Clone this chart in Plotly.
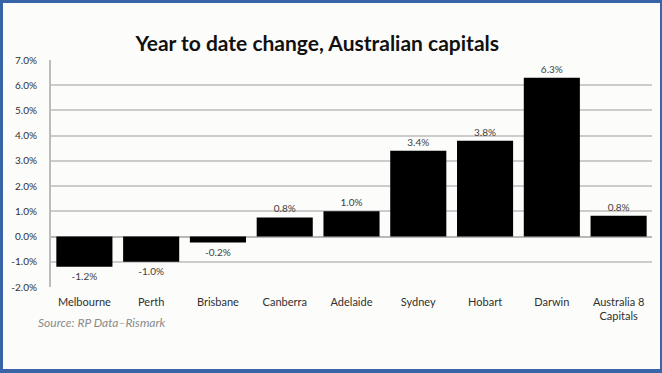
import plotly.graph_objects as go

categories = ["Melbourne", "Perth", "Brisbane", "Canberra", "Adelaide", "Sydney", "Hobart", "Darwin", "Australia 8<br>Capitals"]
values = [-1.2, -1.0, -0.24, 0.76, 1.0, 3.4, 3.8, 6.3, 0.82]
y_ticks = [-2, -1, 0, 1, 2, 3, 4, 5, 6, 7]

W, H = 662, 373
L, R, T, B = 51, 10, 60, 86
pw, ph = W - L - R, H - T - B

def px(x):
    return (x - L) / pw

def py(y):
    return (H - B - y) / ph

FONT = "Lato, Open Sans, sans-serif"
BG = "#fcfcfa"

fig = go.Figure()
fig.add_trace(go.Bar(
    x=categories, y=values,
    marker=dict(color="#000000", line=dict(color="#000000", width=0)),
    text=[f"{v:.1f}%" for v in values],
    textposition="outside",
    textfont=dict(family=FONT, size=10, color="#404040"),
    cliponaxis=False,
    width=0.84,
))

fig.update_layout(
    width=W, height=H,
    margin=dict(l=L, r=R, t=T, b=B),
    paper_bgcolor="#3a64a8",
    plot_bgcolor=BG,
    showlegend=False,
    title=dict(text="<b>Year to date change, Australian capitals</b>",
               x=px(339), xanchor="center", y=1 - 44 / H, yanchor="middle",
               font=dict(family=FONT, size=21, color="#111111")),
    xaxis=dict(showgrid=False, showline=False, ticks="", ticklabelstandoff=7,
               tickfont=dict(family=FONT, size=11, color="#303030")),
    yaxis=dict(range=[-2, 7], tickvals=y_ticks, ticktext=[f"{t:.1f}%" for t in y_ticks],
               showgrid=True, gridcolor="#cccccc", gridwidth=1.5,
               zeroline=True, zerolinecolor="#b8b8b8", zerolinewidth=1.5,
               showline=True, linecolor="#bcbcbc", linewidth=2,
               ticks="", ticklen=0, ticklabelstandoff=10,
               tickfont=dict(family=FONT, size=10, color="#303030")),
    shapes=[dict(type="rect", xref="paper", yref="paper", layer="below",
                 x0=px(3), x1=px(660), y0=py(369), y1=py(3),
                 fillcolor=BG, line=dict(width=0))],
    annotations=[dict(text="<i>Source: RP Data\u2013Rismark</i>", xref="paper", yref="paper",
                      x=px(36), y=py(322), xanchor="left", yanchor="middle", showarrow=False,
                      font=dict(family=FONT, size=12, color="#8a8a8a"))],
)

fig.write_html("out.html", config={"displayModeBar": False},
               post_script="document.body.style.margin='0';document.body.style.padding='0';")
